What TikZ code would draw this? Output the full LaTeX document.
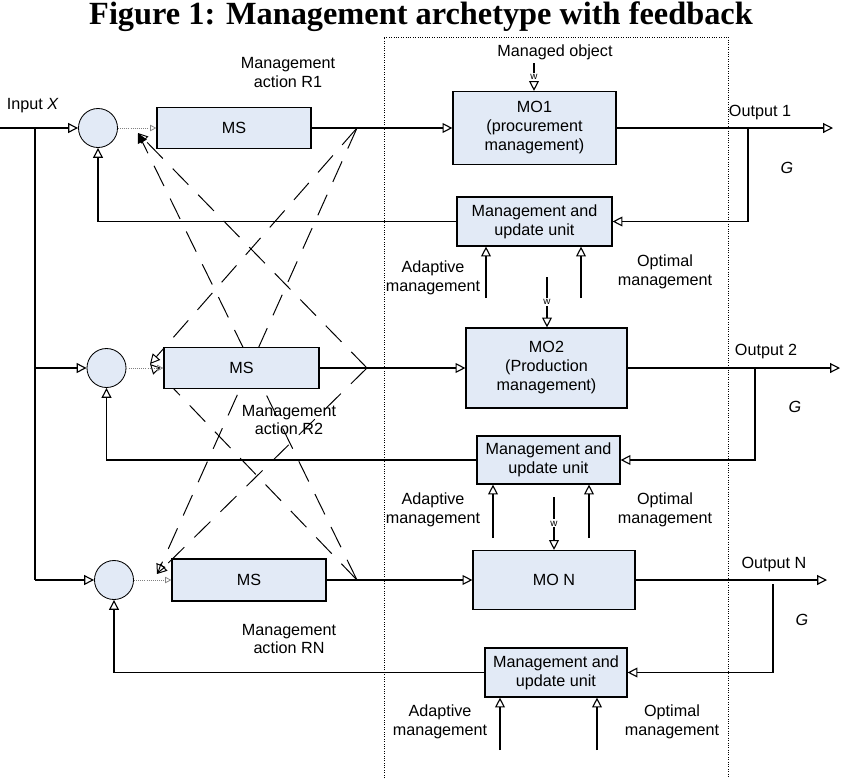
\documentclass[tikz,border=0pt]{standalone}
\usepackage{fontspec}
\setmainfont{Liberation Serif}
\setsansfont{Liberation Sans}
\usetikzlibrary{arrows.meta}
\definecolor{boxblue}{RGB}{226,234,246}

\begin{document}
\begin{tikzpicture}[
x=0.025cm, y=-0.025cm,
every node/.style={font=\sffamily\fontsize{11.5}{13.5}\selectfont, align=center},
box/.style={draw, fill=boxblue, line width=0.8pt, inner sep=1pt},
sum/.style={draw, circle, fill=boxblue, minimum size=0.975cm, inner sep=0pt, line width=0.6pt},
arr/.style={line width=0.8pt, -{Triangle[open,length=7pt,width=7pt]}},
line/.style={line width=0.8pt},
link/.style={line width=0.7pt, dash pattern=on 16pt off 10pt, -{Triangle[open,length=7pt,width=7pt]}},
feed/.style={draw=gray, densely dotted, line width=0.5pt, -{Triangle[open,length=4.5pt,width=4.5pt]}},
wlabel/.style={font=\sffamily\fontsize{7}{8}\selectfont, fill=white, inner sep=1pt}
]
\useasboundingbox (0,0) rectangle (842,778);

\node[font=\bfseries\fontsize{23}{27}\selectfont] (T) at (421,17) {Figure 1: Management archetype with feedback};

\draw[densely dotted, line width=0.7pt] (384,778) -- (384,37) -- (728,37) -- (728,778);

\coordinate (J1) at (357,128);
\coordinate (J2) at (367,368);
\coordinate (J3) at (357,580);
\coordinate (I1) at (138,133);
\coordinate (I2) at (150,364);
\coordinate (I3) at (157,574);

\draw[link] (J2) -- (I1);
\draw[link, -{Triangle[length=7pt,width=7pt]}] (J3) -- (I1);
\draw[link] (J1) -- (I2);
\draw[link] (J3) -- (I2);
\draw[link] (J1) -- (I3);
\draw[link] (J2) -- (I3);

\node[sum] (C1) at (98,128) {};
\node[sum] (C2) at (106.5,368) {};
\node[sum] (C3) at (114,580) {};

\node[box, minimum width=3.85cm, minimum height=1.025cm] (MS1) at (234,128) {MS};
\node[box, minimum width=3.875cm, minimum height=1.025cm] (MS2) at (241.5,368) {MS};
\node[box, minimum width=3.85cm, minimum height=1.05cm] (MS3) at (249,580) {MS};

\node[box, minimum width=4.075cm, minimum height=1.825cm] (MO1) at (534.5,128) {MO1\\(procurement\\management)};
\node[box, minimum width=4.025cm, minimum height=2cm] (MO2) at (546.5,368) {MO2\\(Production\\management)};
\node[box, minimum width=4.05cm, minimum height=1.475cm] (MON) at (554,580) {MO N};

\node[box, minimum width=3.875cm, minimum height=1.225cm] (U1) at (534.5,221.5) {Management and\\update unit};
\node[box, minimum width=3.575cm, minimum height=1.2cm] (U2) at (548.5,460) {Management and\\update unit};
\node[box, minimum width=3.55cm, minimum height=1.225cm] (U3) at (556,672.5) {Management and\\update unit};

\coordinate (IN) at (0,128);
\coordinate (B1) at (35,128);
\coordinate (B3) at (35,580);
\draw[arr] (IN) -- (C1);
\draw[line] (B1) -- (B3);
\draw[arr] (B1 |- C2) -- (C2);
\draw[arr] (B3) -- (C3);

\draw[feed] (C1) -- (MS1);
\draw[feed] (C2) -- (MS2);
\draw[feed] (C3) -- (MS3);

\draw[arr] (MS1) -- (MO1);
\draw[arr] (MS2) -- (MO2);
\draw[arr] (MS3) -- (MON);

\coordinate (O1) at (833,128);
\coordinate (O2) at (840,368);
\coordinate (ON) at (827,580);
\draw[arr] (MO1) -- (O1);
\draw[arr] (MO2) -- (O2);
\draw[arr] (MON) -- (ON);

\coordinate (T1) at (748,128);
\coordinate (T2) at (755,368);
\coordinate (T3) at (773,584);
\draw[arr] (T1) |- (U1.east);
\draw[arr] (T2) |- (U2.east);
\draw[arr] (T3) |- (U3.east);

\draw[arr] (U1.west) -| (C1.south);
\draw[arr] (U2.west) -| (C2.south);
\draw[arr] (U3.west) -| (C3.south);

\coordinate (W1) at (534,63);
\coordinate (W2) at (547,277);
\coordinate (W3) at (554,497);
\draw[arr] (W1) -- node[wlabel] {w} (W1 |- MO1.north);
\draw[arr] (W2) -- node[wlabel] {w} (W2 |- MO2.north);
\draw[arr] (W3) -- node[wlabel] {w} (W3 |- MON.north);

\coordinate (A1) at (486,298);
\coordinate (P1) at (581,298);
\coordinate (A2) at (493,538);
\coordinate (P2) at (589,538);
\coordinate (A3) at (500,750);
\coordinate (P3) at (597,750);
\draw[arr] (A1) -- (A1 |- U1.south);
\draw[arr] (P1) -- (P1 |- U1.south);
\draw[arr] (A2) -- (A2 |- U2.south);
\draw[arr] (P2) -- (P2 |- U2.south);
\draw[arr] (A3) -- (A3 |- U3.south);
\draw[arr] (P3) -- (P3 |- U3.south);

\node[anchor=west] (LX) at (2,106) {Input \textit{X}};
\node (LMO) at (555,52) {Managed object};
\node (LR1) at (288,72.5) {Management\\action R1};
\node (LR2) at (289,420) {Management\\action R2};
\node (LRN) at (289,639) {Management\\action RN};
\node (LA1) at (433,278) {Adaptive\\management};
\node (LP1) at (665,272) {Optimal\\management};
\node (LA2) at (433,510) {Adaptive\\management};
\node (LP2) at (665,510) {Optimal\\management};
\node (LA3) at (440,722) {Adaptive\\management};
\node (LP3) at (672,722) {Optimal\\management};
\node (LO1) at (760,113) {Output 1};
\node (LO2) at (766,352) {Output 2};
\node (LON) at (774,565) {Output N};
\node (G1) at (787,168) {\textit{G}};
\node (G2) at (795,407) {\textit{G}};
\node (GN) at (802,620) {\textit{G}};
\end{tikzpicture}
\end{document}
